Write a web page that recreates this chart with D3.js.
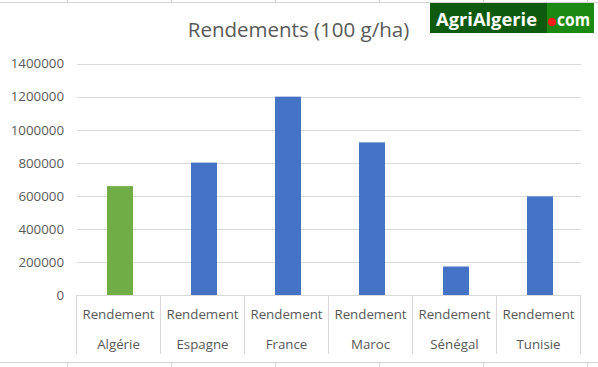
<!DOCTYPE html>
<html><head><meta charset="utf-8">
<script src="https://cdn.jsdelivr.net/npm/d3@7"></script>
<style>body{margin:0;background:#fff}svg{display:block}</style>
</head><body>
<svg id="c" width="598" height="367"></svg>
<script>
const categories = ["Algérie","Espagne","France","Maroc","Sénégal","Tunisie"];
const seriesLabel = "Rendement";
const values = [660000, 802000, 1200000, 924000, 175000, 598000];
const highlight = "Algérie";
const yTicks = [0,200000,400000,600000,800000,1000000,1200000,1400000];
const title = "Rendements (100 g/ha)";
const sheetCols = [66.5, 170.7, 274.5, 378.7, 482.7, 586.7];

const svg = d3.select("#c");
const font = "'Open Sans', sans-serif";
const textCol = "#595959";
const gridCol = "#d9d9d9";

// spreadsheet cell borders (background)
const bg = svg.append("g").attr("stroke", "#d4d4d4").attr("stroke-width", 1);
bg.append("line").attr("x1",0).attr("x2",598).attr("y1",2.5).attr("y2",2.5);
bg.append("line").attr("x1",0).attr("x2",598).attr("y1",362.5).attr("y2",362.5);
sheetCols.forEach(x => {
  bg.append("line").attr("x1",Math.round(x)+0.5).attr("x2",Math.round(x)+0.5).attr("y1",0).attr("y2",2.5);
  bg.append("line").attr("x1",Math.round(x)+0.5).attr("x2",Math.round(x)+0.5).attr("y1",362.5).attr("y2",367);
});

const x = d3.scaleBand().domain(categories).range([77, 581]).paddingInner(0).paddingOuter(0);
const y = d3.scaleLinear().domain([0, 1400000]).range([295.5, 63.5]);

// gridlines
svg.append("g").selectAll("line").data(yTicks.slice(1)).join("line")
  .attr("x1", 77).attr("x2", 581)
  .attr("y1", d => Math.round(y(d)) + 0.5).attr("y2", d => Math.round(y(d)) + 0.5)
  .attr("stroke", gridCol).attr("stroke-width", 1);

// y axis labels
const yAxis = d3.axisLeft(y).tickValues(yTicks).tickSize(0).tickPadding(13).tickFormat(d3.format("d"));
const ya = svg.append("g").attr("transform", "translate(77,0)").call(yAxis);
ya.select(".domain").remove();
ya.selectAll("text").attr("font-family", font).attr("font-size", "13.3px").attr("fill", textCol);

// bars
const bw = 26;
svg.append("g").selectAll("rect").data(categories).join("rect")
  .attr("x", d => x(d) + x.bandwidth()/2 - bw/2 + 1)
  .attr("width", bw)
  .attr("y", (d,i) => y(values[i]))
  .attr("height", (d,i) => y(0) - y(values[i]))
  .attr("fill", d => d === highlight ? "#70ad47" : "#4472c4");

// category axis
const ax = svg.append("g");
ax.append("line").attr("x1", 76).attr("x2", 581).attr("y1", 295.5).attr("y2", 295.5).attr("stroke", gridCol);
const bounds = categories.map(c => x(c)).concat([x(categories[categories.length-1]) + x.bandwidth()]);
ax.selectAll("line.sep").data(bounds).join("line").attr("class","sep")
  .attr("x1", d => Math.round(d) - 0.5).attr("x2", d => Math.round(d) - 0.5)
  .attr("y1", 295.5).attr("y2", 354)
  .attr("stroke", gridCol);
ax.selectAll("text.s").data(categories).join("text").attr("class","s")
  .attr("x", d => x(d) + x.bandwidth()/2 - 0.5).attr("y", 319)
  .attr("text-anchor","middle").attr("font-family", font).attr("font-size","13.3px").attr("fill", textCol)
  .text(seriesLabel);
ax.selectAll("text.c").data(categories).join("text").attr("class","c")
  .attr("x", d => x(d) + x.bandwidth()/2 - 0.5).attr("y", 349)
  .attr("text-anchor","middle").attr("font-family", font).attr("font-size","13.3px").attr("fill", textCol)
  .text(d => d);

// title
svg.append("text").attr("x", 298.5).attr("y", 37).attr("text-anchor","middle")
  .attr("font-family", font).attr("font-size","20.5px").attr("fill", textCol).text(title);

// logo
const logo = svg.append("g");
logo.append("rect").attr("x", 430).attr("y", 3).attr("width", 164).attr("height", 30).attr("fill", "#0e5a0e");
logo.append("rect").attr("x", 547).attr("y", 3).attr("width", 47).attr("height", 30).attr("fill", "#1c8a12");
logo.append("text").attr("x", 436).attr("y", 25.5).attr("font-family", font).attr("font-weight", "bold")
  .attr("font-size", "18.5px").attr("fill", "#fff")
  .attr("textLength", 101).attr("lengthAdjust", "spacingAndGlyphs").text("AgriAlgerie");
logo.append("circle").attr("cx", 552).attr("cy", 22).attr("r", 4.2).attr("fill", "#ff1a1a");
logo.append("text").attr("x", 557).attr("y", 25.5).attr("font-family", font).attr("font-weight", "bold")
  .attr("font-size", "18.5px").attr("fill", "#fff")
  .attr("textLength", 33).attr("lengthAdjust", "spacingAndGlyphs").text("com");
</script>
</body></html>
